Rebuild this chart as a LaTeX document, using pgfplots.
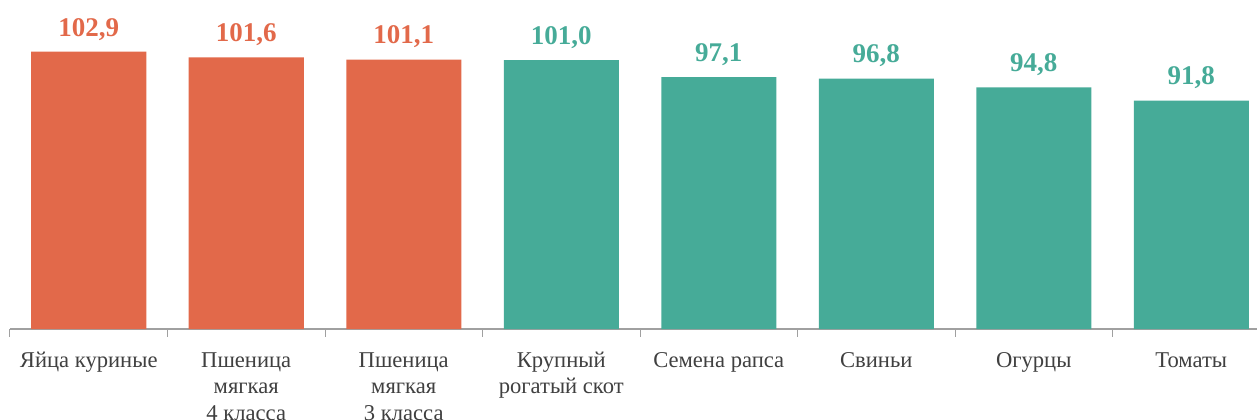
\documentclass[border=0pt]{standalone}
\usepackage{fontspec}
\setmainfont{Liberation Serif}
\usepackage{pgfplots}
\pgfplotsset{compat=1.18}
\definecolor{cor}{HTML}{E2694A}
\definecolor{cte}{HTML}{46AB98}
\definecolor{axg}{HTML}{A0A0A0}
\definecolor{lbl}{HTML}{404040}
\begin{document}
\begin{tikzpicture}
\begin{axis}[
  at={(0,0)}, anchor=south west,
  scale only axis, width=630pt, height=154.35pt,
  xmin=-0.5, xmax=7.5, ymin=40, ymax=110,
  clip=false,
  axis x line*=bottom, axis y line=none,
  x axis line style={draw=axg, line width=0.65pt, -},
  ybar, bar width=57.5pt, bar shift=0pt,
  xtick={0,1,2,3,4,5,6,7}, major tick length=0pt,
  xticklabels={{\strut Яйца куриные},{\strut Пшеница\\мягкая\\4 класса},{\strut Пшеница\\мягкая\\3 класса},{\strut Крупный\\рогатый скот},{\strut Семена рапса},{\strut Свиньи},{\strut Огурцы},{\strut Томаты}},
  xticklabel style={anchor=north, inner sep=0pt, yshift=-9.5pt, align=center, text=lbl, font=\fontsize{11.3}{13.35}\selectfont},
  extra x ticks={-0.5,0.5,1.5,2.5,3.5,4.5,5.5,6.5,7.5},
  extra x tick labels={},
  extra x tick style={tick align=outside, major tick length=3.75pt, tick style={draw=axg, line width=0.5pt}},
  nodes near coords={\pgfmathprintnumber[fixed,fixed zerofill,precision=1,use comma,assume math mode=true]{\pgfplotspointmeta}},
  nodes near coords style={anchor=base, inner sep=0pt, yshift=7.8pt, font=\bfseries\fontsize{13.5}{15}\selectfont},
]
\addplot[fill=cor, draw=none, every node near coord/.append style={text=cor}] coordinates {(0,102.9) (1,101.6) (2,101.1)};
\addplot[fill=cte, draw=none, every node near coord/.append style={text=cte}] coordinates {(3,101.0) (4,97.1) (5,96.8) (6,94.8) (7,91.8)};
\end{axis}
\pgfresetboundingbox
\path[use as bounding box] (-5pt,-45pt) rectangle (623.5pt,164.5pt);
\end{tikzpicture}
\end{document}
